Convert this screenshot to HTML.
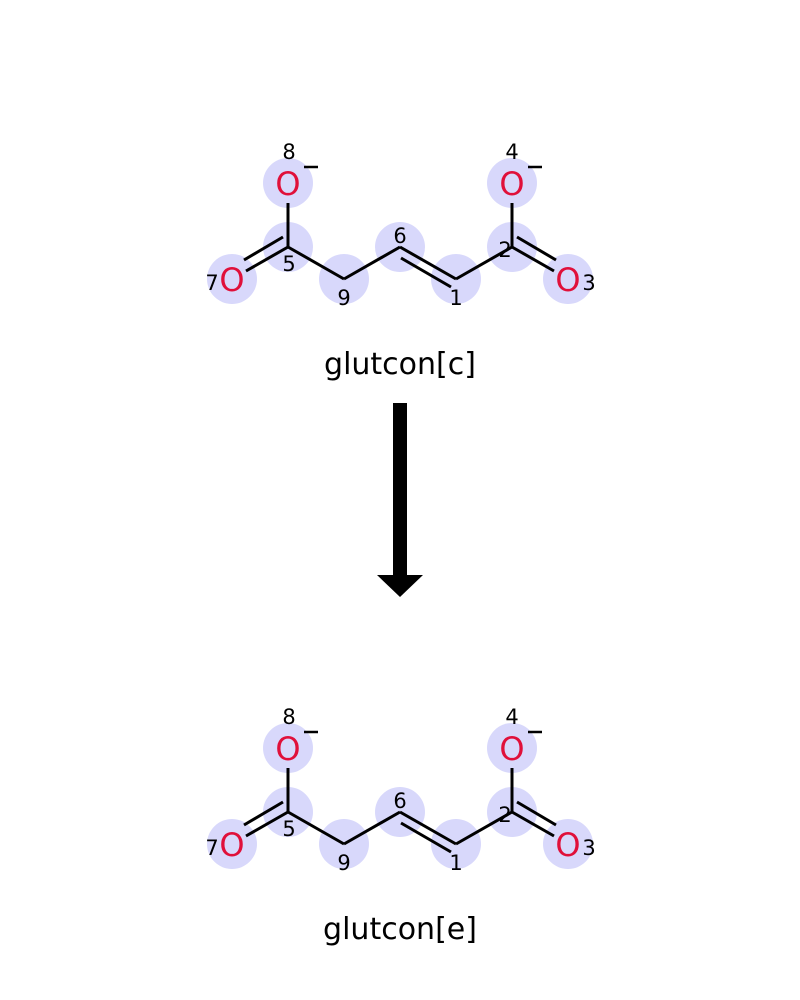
<!DOCTYPE html>
<html><head><meta charset="utf-8"><style>
html,body{margin:0;padding:0;background:#fff;}
svg{display:block;}
text{font-family:"DejaVu Sans","Liberation Sans",sans-serif;}
</style></head><body>
<svg width="800" height="1000" viewBox="0 0 800 1000">
<defs>
<g id="mol">
  <g fill="#d8d8fb">
    <circle cx="288" cy="183" r="25"/><circle cx="288" cy="247" r="25"/>
    <circle cx="232" cy="279" r="25"/><circle cx="344" cy="279" r="25"/>
    <circle cx="400" cy="247" r="25"/><circle cx="456" cy="279" r="25"/>
    <circle cx="512" cy="247" r="25"/><circle cx="568" cy="279" r="25"/>
    <circle cx="512" cy="183" r="25"/>
  </g>
  <g stroke="#000" stroke-width="3" fill="none" stroke-linecap="butt">
    <line x1="288" y1="203" x2="288" y2="247"/>
    <line x1="288" y1="247" x2="246" y2="271"/>
    <line x1="283" y1="237" x2="244" y2="260"/>
    <line x1="288" y1="247" x2="344" y2="279"/>
    <line x1="344" y1="279" x2="400" y2="247"/>
    <line x1="400" y1="247" x2="456" y2="279"/>
    <line x1="401" y1="258" x2="451" y2="287"/>
    <line x1="456" y1="279" x2="512" y2="247"/>
    <line x1="512" y1="203" x2="512" y2="247"/>
    <line x1="512" y1="247" x2="554" y2="271"/>
    <line x1="517" y1="237" x2="556" y2="260"/>
  </g>
  <g fill="#e0103a" font-size="32" text-anchor="middle">
    <text x="288" y="195">O</text><text x="512" y="195">O</text>
    <text x="232" y="291">O</text><text x="568" y="291">O</text>
  </g>
  <g fill="#000" font-size="21" text-anchor="middle">
    <text x="289" y="159">8</text><text x="512" y="159">4</text>
    <text x="212" y="290">7</text><text x="589" y="290">3</text>
    <text x="289" y="271">5</text><text x="344" y="305">9</text>
    <text x="400" y="243">6</text><text x="456" y="305">1</text>
    <text x="505" y="257">2</text>
  </g>
  <g stroke="#000" stroke-width="2.5">
    <line x1="304" y1="167" x2="318" y2="167"/>
    <line x1="528" y1="167" x2="542" y2="167"/>
  </g>
</g>
</defs>
<g><use href="#mol"/></g>
<text x="400" y="374" font-size="30" text-anchor="middle" fill="#000">glutcon[c]</text>
<g>
  <rect x="393" y="403" width="14" height="173" fill="#000"/>
  <polygon points="377,575 423,575 400,597" fill="#000"/>
</g>
<g transform="translate(0,565)"><use href="#mol"/></g>
<text x="400" y="939" font-size="30" text-anchor="middle" fill="#000">glutcon[e]</text>
</svg>
</body></html>
